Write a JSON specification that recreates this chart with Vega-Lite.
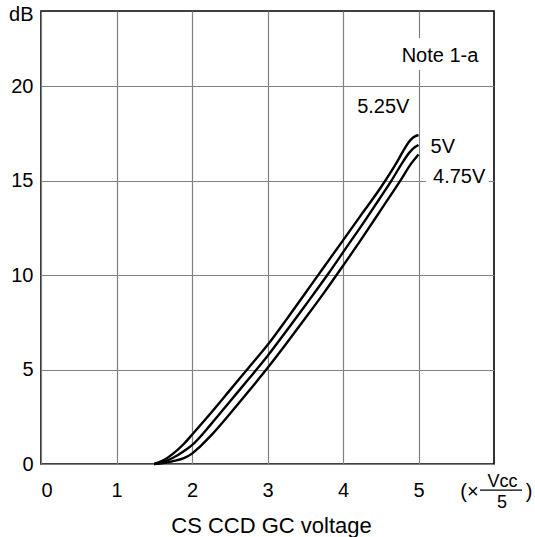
{
  "$schema": "https://vega.github.io/schema/vega-lite/v6.json",
  "width": 453,
  "height": 453,
  "autosize": {"type": "none"},
  "padding": {"left": 41, "top": 11, "right": 41, "bottom": 73},
  "background": "white",
  "config": {
    "view": {"stroke": "black", "strokeWidth": 1.6},
    "font": "Liberation Sans",
    "axis": {"labelFont": "Liberation Sans", "titleFont": "Liberation Sans", "labelColor": "black", "titleColor": "black", "titleFontWeight": "normal"}
  },
  "datasets": {
    "curves": [
      {"s": "5.25V", "x": 1.5, "y": 0}, {"s": "5.25V", "x": 1.6, "y": 0.15}, {"s": "5.25V", "x": 1.75, "y": 0.55}, {"s": "5.25V", "x": 1.9, "y": 1.1}, {"s": "5.25V", "x": 2.0, "y": 1.55}, {"s": "5.25V", "x": 2.25, "y": 2.7}, {"s": "5.25V", "x": 2.5, "y": 3.9}, {"s": "5.25V", "x": 2.75, "y": 5.1}, {"s": "5.25V", "x": 3.0, "y": 6.3}, {"s": "5.25V", "x": 3.25, "y": 7.65}, {"s": "5.25V", "x": 3.5, "y": 9.05}, {"s": "5.25V", "x": 3.75, "y": 10.45}, {"s": "5.25V", "x": 4.0, "y": 11.85}, {"s": "5.25V", "x": 4.25, "y": 13.25}, {"s": "5.25V", "x": 4.5, "y": 14.65}, {"s": "5.25V", "x": 4.7, "y": 15.9}, {"s": "5.25V", "x": 4.8, "y": 16.6}, {"s": "5.25V", "x": 4.87, "y": 17.05}, {"s": "5.25V", "x": 4.93, "y": 17.3}, {"s": "5.25V", "x": 5.0, "y": 17.43},
      {"s": "5V", "x": 1.5, "y": 0}, {"s": "5V", "x": 1.6, "y": 0.08}, {"s": "5V", "x": 1.75, "y": 0.33}, {"s": "5V", "x": 1.9, "y": 0.7}, {"s": "5V", "x": 2.0, "y": 1.0}, {"s": "5V", "x": 2.25, "y": 2.1}, {"s": "5V", "x": 2.5, "y": 3.3}, {"s": "5V", "x": 2.75, "y": 4.5}, {"s": "5V", "x": 3.0, "y": 5.72}, {"s": "5V", "x": 3.25, "y": 7.05}, {"s": "5V", "x": 3.5, "y": 8.4}, {"s": "5V", "x": 3.8, "y": 10.05}, {"s": "5V", "x": 4.05, "y": 11.5}, {"s": "5V", "x": 4.3, "y": 12.95}, {"s": "5V", "x": 4.5, "y": 14.15}, {"s": "5V", "x": 4.64, "y": 15.0}, {"s": "5V", "x": 4.8, "y": 16.05}, {"s": "5V", "x": 4.89, "y": 16.55}, {"s": "5V", "x": 4.95, "y": 16.78}, {"s": "5V", "x": 5.0, "y": 16.9},
      {"s": "4.75V", "x": 1.5, "y": 0}, {"s": "4.75V", "x": 1.6, "y": 0.04}, {"s": "4.75V", "x": 1.75, "y": 0.15}, {"s": "4.75V", "x": 1.9, "y": 0.32}, {"s": "4.75V", "x": 2.0, "y": 0.55}, {"s": "4.75V", "x": 2.1, "y": 0.9}, {"s": "4.75V", "x": 2.25, "y": 1.5}, {"s": "4.75V", "x": 2.5, "y": 2.65}, {"s": "4.75V", "x": 2.75, "y": 3.85}, {"s": "4.75V", "x": 3.0, "y": 5.08}, {"s": "4.75V", "x": 3.25, "y": 6.38}, {"s": "4.75V", "x": 3.5, "y": 7.72}, {"s": "4.75V", "x": 3.75, "y": 9.08}, {"s": "4.75V", "x": 4.0, "y": 10.5}, {"s": "4.75V", "x": 4.25, "y": 11.95}, {"s": "4.75V", "x": 4.5, "y": 13.45}, {"s": "4.75V", "x": 4.77, "y": 15.08}, {"s": "4.75V", "x": 4.9, "y": 15.9}, {"s": "4.75V", "x": 5.0, "y": 16.4}
    ],
    "masks": [
      {"x": 4.69, "x2": 5.88, "y": 22.57, "y2": 20.87},
      {"x": 5.1, "x2": 5.93, "y": 15.26, "y2": 14.68}
    ],
    "labels": [
      {"g": "big", "t": "Note 1-a", "x": 5.285, "y": 21.31},
      {"g": "big", "t": "5.25V", "x": 4.534, "y": 18.61},
      {"g": "big", "t": "5V", "x": 5.322, "y": 16.49},
      {"g": "big", "t": "4.75V", "x": 5.539, "y": 14.9},
      {"g": "big", "t": "(×", "x": 5.675, "y": -1.775},
      {"g": "big", "t": ")", "x": 6.464, "y": -1.775},
      {"g": "small", "t": "Vcc", "x": 6.113, "y": -1.219},
      {"g": "small", "t": "5", "x": 6.106, "y": -2.331}
    ],
    "fracline": [
      {"x": 5.815, "x2": 6.371, "y": -1.38}
    ]
  },
  "layer": [
    {
      "data": {"name": "masks"},
      "mark": {"type": "rect", "fill": "white", "stroke": null},
      "encoding": {
        "x": {"field": "x", "type": "quantitative", "scale": {"domain": [0, 6], "nice": false}, "axis": {"values": [0, 1, 2, 3, 4, 5], "format": "d", "grid": true, "gridColor": "#808080", "gridWidth": 1.2, "gridOpacity": 1, "domain": false, "ticks": false, "tickSize": 0, "labelFontSize": 20, "labelPadding": 32, "labelBaseline": "alphabetic", "title": "CS CCD GC voltage", "titleFontSize": 22, "titleBaseline": "alphabetic", "titleX": 230, "titleY": 68, "titleAlign": "center"}},
        "x2": {"field": "x2"},
        "y": {"field": "y", "type": "quantitative", "scale": {"domain": [0, 24], "nice": false}, "axis": {"values": [0, 5, 10, 15, 20], "format": "d", "grid": true, "gridColor": "#808080", "gridWidth": 1.2, "gridOpacity": 1, "domain": false, "ticks": false, "tickSize": 0, "labelFontSize": 20, "labelPadding": 8, "labelBaseline": "middle", "title": "dB", "titleFontSize": 20, "titleAngle": 0, "titleAlign": "right", "titleBaseline": "alphabetic", "titleX": -8, "titleY": 9}},
        "y2": {"field": "y2"}
      }
    },
    {
      "data": {"name": "curves"},
      "mark": {"type": "line", "color": "black", "strokeWidth": 2.4, "interpolate": "monotone"},
      "encoding": {
        "x": {"field": "x", "type": "quantitative"},
        "y": {"field": "y", "type": "quantitative"},
        "detail": {"field": "s"}
      }
    },
    {
      "data": {"name": "fracline"},
      "mark": {"type": "rule", "color": "black", "strokeWidth": 1.2},
      "encoding": {
        "x": {"field": "x", "type": "quantitative"},
        "x2": {"field": "x2"},
        "y": {"field": "y", "type": "quantitative"}
      }
    },
    {
      "data": {"name": "labels"},
      "transform": [{"filter": "datum.g === 'big'"}],
      "mark": {"type": "text", "fontSize": 20, "font": "Liberation Sans", "align": "center", "baseline": "alphabetic", "color": "black"},
      "encoding": {
        "x": {"field": "x", "type": "quantitative"},
        "y": {"field": "y", "type": "quantitative"},
        "text": {"field": "t"}
      }
    },
    {
      "data": {"name": "labels"},
      "transform": [{"filter": "datum.g === 'small'"}],
      "mark": {"type": "text", "fontSize": 18, "font": "Liberation Sans", "align": "center", "baseline": "alphabetic", "color": "black"},
      "encoding": {
        "x": {"field": "x", "type": "quantitative"},
        "y": {"field": "y", "type": "quantitative"},
        "text": {"field": "t"}
      }
    }
  ]
}
